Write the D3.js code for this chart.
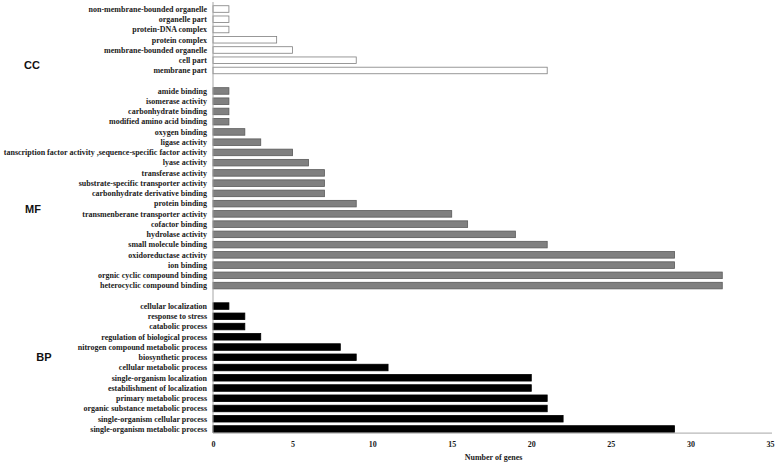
<!DOCTYPE html>
<html>
<head>
<meta charset="utf-8">
<script src="https://cdn.jsdelivr.net/npm/d3@7"></script>
<style>
  body { margin: 0; background: #fff; }
  svg { display: block; }
</style>
</head>
<body>
<svg id="chart" width="779" height="463"></svg>
<script>
// data, top to bottom as drawn
const ccTerms = ["non-membrane-bounded organelle", "organelle part", "protein-DNA complex", "protein complex",
  "membrane-bounded organelle", "cell part", "membrane part"]
const ccValues = [1, 1, 1, 4, 5, 9, 21]

const mfTerms = ["amide binding", "isomerase activity", "carbonhydrate binding", "modified amino acid binding",
  "oxygen binding", "ligase activity", "tanscription factor activity ,sequence-specific factor activity",
  "lyase activity", "transferase activity", "substrate-specific transporter activity",
  "carbonhydrate derivative binding", "protein binding", "transmenberane transporter activity",
  "cofactor binding", "hydrolase activity", "small molecule binding", "oxidoreductase activity",
  "ion binding", "orgnic cyclic compound binding", "heterocyclic compound binding"]
const mfValues = [1, 1, 1, 1, 2, 3, 5, 6, 7, 7, 7, 9, 15, 16, 19, 21, 29, 29, 32, 32]

const bpTerms = ["cellular localization", "response to stress", "catabolic process",
  "regulation of biological process", "nitrogen compound metabolic process", "biosynthetic process",
  "cellular metabolic process", "single-organism localization", "estabilishment of localization",
  "primary metabolic  process", "organic substance metabolic process", "single-organism cellular process",
  "single-organism metabolic process"]
const bpValues = [1, 2, 2, 3, 8, 9, 11, 20, 20, 21, 21, 22, 29]

const xTicks = [0, 5, 10, 15, 20, 25, 30, 35]

// labelRow: row (by index, may be fractional) the group name sits beside
const groups = [
  { name: "CC", terms: ccTerms, values: ccValues, fill: "#ffffff", stroke: "#7f7f7f", labelX: 32, labelRow: 5.5 },
  { name: "MF", terms: mfTerms, values: mfValues, fill: "#808080", stroke: "#595959", labelX: 33, labelRow: 11.5 },
  { name: "BP", terms: bpTerms, values: bpValues, fill: "#000000", stroke: "#000000", labelX: 44, labelRow: 5 }
]

// build row list with one blank slot between groups
const rows = []
groups.forEach((g, gi) => {
  if (gi > 0) rows.push({ key: "gap" + gi, blank: true })
  g.terms.forEach((t, i) => rows.push({ key: g.name + ":" + t, term: t, value: g.values[i], group: g }))
})

const svg = d3.select("#chart")
const x0 = 213, x1 = 770
const yTop = 3.9, yBot = 434.1

const x = d3.scaleLinear().domain([0, 35]).range([x0, x1])
const y = d3.scaleBand()
  .domain(rows.map(r => r.key))
  .range([yTop, yBot])
  .paddingInner(0.36)
  .paddingOuter(0.18)

const bars = rows.filter(r => !r.blank)

svg.append("g")
  .selectAll("rect")
  .data(bars)
  .join("rect")
    .attr("x", x(0))
    .attr("y", d => y(d.key))
    .attr("width", d => x(d.value) - x(0))
    .attr("height", y.bandwidth())
    .attr("fill", d => d.group.fill)
    .attr("stroke", d => d.group.stroke)
    .attr("stroke-width", 0.8)

svg.append("g")
  .selectAll("text")
  .data(bars)
  .join("text")
    .attr("x", x0 - 6)
    .attr("y", d => y(d.key) + y.bandwidth() / 2)
    .attr("dy", "0.35em")
    .attr("text-anchor", "end")
    .attr("font-family", "'Liberation Serif', 'Times New Roman', serif")
    .attr("font-weight", "bold")
    .attr("font-size", 8)
    .attr("fill", "#1a1a1a")
    .text(d => d.term)

// group labels beside a chosen row of their block
svg.append("g")
  .selectAll("text")
  .data(groups)
  .join("text")
    .attr("x", d => d.labelX)
    .attr("y", d => {
      const first = y(d.name + ":" + d.terms[0])
      return first + d.labelRow * y.step() + y.bandwidth() / 2
    })
    .attr("dy", "0.35em")
    .attr("text-anchor", "middle")
    .attr("font-family", "'Liberation Sans', Arial, sans-serif")
    .attr("font-weight", "bold")
    .attr("font-size", 11)
    .attr("fill", "#111")
    .text(d => d.name)

// axes
svg.append("line")
  .attr("x1", x0).attr("x2", x0)
  .attr("y1", 2).attr("y2", yBot - 1)
  .attr("stroke", "#a6a6a6")
  .attr("stroke-width", 1)

const xAxis = svg.append("g")
  .attr("transform", `translate(0,${yBot - 1})`)
  .call(d3.axisBottom(x).tickValues(xTicks).tickSize(0).tickPadding(8))

xAxis.select(".domain").attr("stroke", "#a6a6a6").attr("d", `M${x0},0H${x1 + 2}`)
xAxis.selectAll("text")
  .attr("font-family", "'Liberation Serif', 'Times New Roman', serif")
  .attr("font-weight", "bold")
  .attr("font-size", 8)
  .attr("fill", "#1a1a1a")

svg.append("text")
  .attr("x", (x0 + x1) / 2 + 2)
  .attr("y", 457)
  .attr("dy", "0.35em")
  .attr("text-anchor", "middle")
  .attr("font-family", "'Liberation Serif', 'Times New Roman', serif")
  .attr("font-weight", "bold")
  .attr("font-size", 8)
  .attr("fill", "#1a1a1a")
  .text("Number of genes")
</script>
</body>
</html>
